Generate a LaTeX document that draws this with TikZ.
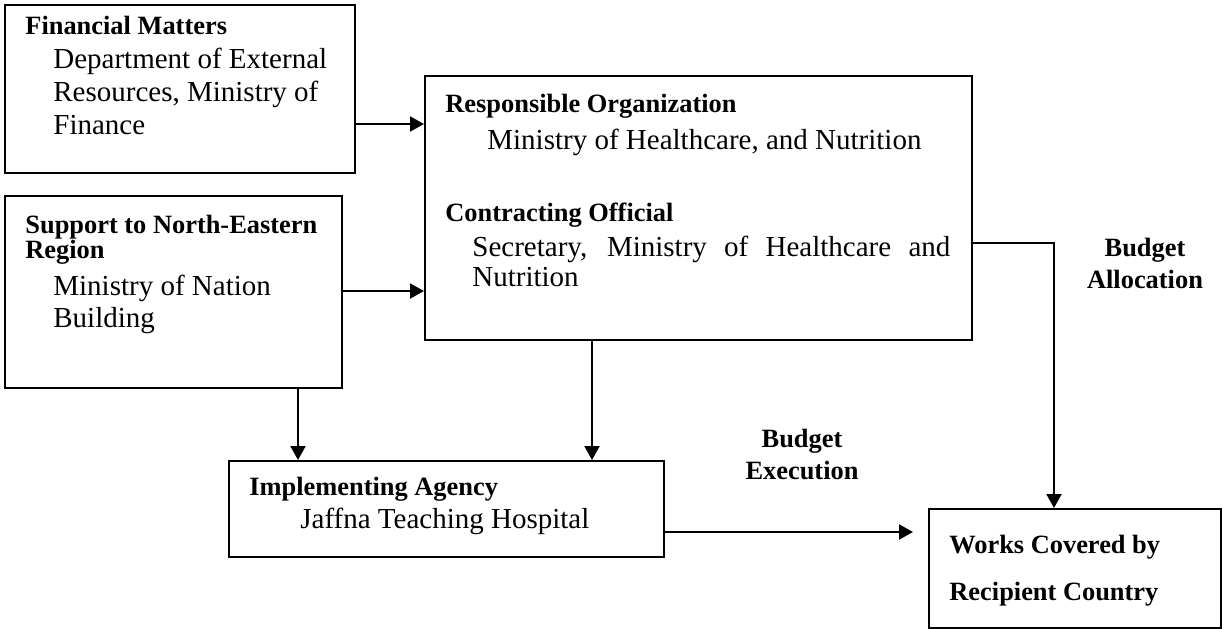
\documentclass[tikz,border=0pt]{standalone}
\usepackage{fontspec}
\setmainfont{Liberation Serif}
\usetikzlibrary{arrows.meta}

\begin{document}
\begin{tikzpicture}[x=0.5pt, y=-0.5pt,
  box/.style={draw, line width=1pt, inner sep=0pt, anchor=north west},
  hd/.style={anchor=base west, inner sep=0pt, font=\fontsize{13.2}{15}\selectfont\bfseries},
  bd/.style={anchor=base west, inner sep=0pt, font=\fontsize{14.5}{17}\selectfont},
  lbl/.style={anchor=base, inner sep=0pt, font=\fontsize{13.2}{15}\selectfont\bfseries},
  arr/.style={line width=1pt, -{Triangle[length=7pt, width=7.5pt]}}]

\useasboundingbox (0,0) rectangle (1222,628);

% boxes
\node[box, minimum width=175pt,   minimum height=84pt]   (A)  at (4,4)     {};
\node[box, minimum width=168.5pt, minimum height=96pt]   (S)  at (4,195)   {};
\node[box, minimum width=273.5pt, minimum height=132pt]  (R)  at (424,75)  {};
\node[box, minimum width=217.5pt, minimum height=48pt]   (IA) at (228,460) {};
\node[box, minimum width=146pt,   minimum height=59.5pt] (W)  at (928,508) {};

% Financial Matters
\node[hd] (a1) at (25,34)  {Financial Matters};
\node[bd] (a2) at (53,68)  {Department of External};
\node[bd] (a3) at (53,101) {Resources, Ministry of};
\node[bd] (a4) at (53,134) {Finance};

% Support to North-Eastern Region
\node[hd] (s1) at (25,233) {Support to North-Eastern};
\node[hd] (s2) at (25,258) {Region};
\node[bd] (s3) at (53,295) {Ministry of Nation};
\node[bd] (s4) at (53,327) {Building};

% Responsible organization / contracting official
\node[hd] (r1) at (445,112) {Responsible Organization};
\node[bd] (r2) at (487,149) {Ministry of Healthcare, and Nutrition};
\node[hd] (r3) at (445,221) {Contracting Official};
\node[bd] (r4) at (472,256) {\makebox[239pt][s]{Secretary, Ministry of Healthcare and}};
\node[bd] (r5) at (472,286) {Nutrition};

% Implementing agency
\node[hd] (i1) at (249,495) {Implementing Agency};
\node[bd] (i2) at (300,528) {Jaffna Teaching Hospital};

% Works covered
\node[hd] (w1) at (949,553) {Works Covered by};
\node[hd] (w2) at (949,600) {Recipient Country};

% flow labels
\node[lbl] (ba1) at (1145,256) {Budget};
\node[lbl] (ba2) at (1145,288) {Allocation};
\node[lbl] (be1) at (802,447)  {Budget};
\node[lbl] (be2) at (802,479)  {Execution};

% connectors
\coordinate (exend) at (913,532);
\draw[arr] (A.east |- 0,124) -- (R.west |- 0,124);
\draw[arr] (S.east |- 0,291) -- (R.west |- 0,291);
\draw[arr] (S.south -| 298,0) -- (IA.north -| 298,0);
\draw[arr] (R.south -| 592,0) -- (IA.north -| 592,0);
\draw[arr] (R.east |- 0,243) -| (W.north -| 1054,0);
\draw[arr] (IA.east |- 0,532) -- (exend);

\end{tikzpicture}
\end{document}
